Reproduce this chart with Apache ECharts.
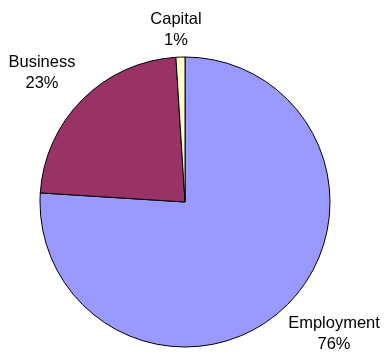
<!DOCTYPE html>
<html>
<head>
<meta charset="utf-8">
<script src="https://cdn.jsdelivr.net/npm/echarts@6/dist/echarts.min.js"></script>
<style>
  html, body { margin: 0; padding: 0; background: #fff; }
  #chart { width: 388px; height: 354px; }
</style>
</head>
<body>
<div id="chart"></div>
<script>
// Income sources, share of total
const categories = ['Employment', 'Business', 'Capital'];
const shares = [76, 23, 1];
const sliceColors = ['#9999FF', '#993366', '#FFFFCC'];

// Where each slice's caption sits (centre of the two-line text)
const labelSpots = [[334, 334], [42, 73], [176, 30]];

const chart = echarts.init(document.getElementById('chart'), null, { renderer: 'canvas' });

chart.setOption({
  animation: false,
  backgroundColor: '#ffffff',
  series: [{
    type: 'pie',
    center: [185, 202],
    radius: 145,
    startAngle: 90,
    clockwise: true,
    avoidLabelOverlap: false,
    data: categories.map((name, i) => ({
      name,
      value: shares[i],
      itemStyle: { color: sliceColors[i] }
    })),
    itemStyle: { borderColor: '#000000', borderWidth: 1 },
    label: {
      show: true,
      position: 'outside',
      formatter: '{b}\n{d}%',
      fontFamily: 'Liberation Sans, Arial, sans-serif',
      fontSize: 16.5,
      lineHeight: 21,
      color: '#000000',
      align: 'center'
    },
    labelLine: { show: false },
    labelLayout: function (params) {
      const p = labelSpots[params.dataIndex];
      return { x: p[0], y: p[1], align: 'center', verticalAlign: 'middle' };
    },
    emphasis: { disabled: true }
  }]
});
</script>
</body>
</html>
